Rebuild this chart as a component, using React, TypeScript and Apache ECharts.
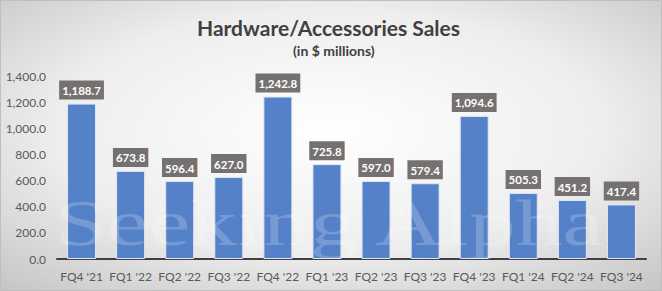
import React, { useEffect, useRef } from "react";
import * as echarts from "echarts";

const categories = ["FQ4 '21", "FQ1 '22", "FQ2 '22", "FQ3 '22", "FQ4 '22", "FQ1 '23", "FQ2 '23", "FQ3 '23", "FQ4 '23", "FQ1 '24", "FQ2 '24", "FQ3 '24"];
const sales = [1188.7, 673.8, 596.4, 627.0, 1242.8, 725.8, 597.0, 579.4, 1094.6, 505.3, 451.2, 417.4];
const titleText = "Hardware/Accessories Sales";
const subtitleText = "(in $ millions)";
const watermark = "Seeking Alpha";

const fmt = (v: number) =>
  v.toLocaleString("en-US", { minimumFractionDigits: 1, maximumFractionDigits: 1 });

export default function App() {
  const ref = useRef<HTMLDivElement>(null);
  useEffect(() => {
    document.body.style.margin = "0";
    const chart = echarts.init(ref.current!, null, { renderer: "svg" });
    chart.setOption({
      animation: false,
      backgroundColor: new echarts.graphic.RadialGradient(0.5, 0.45, 0.75, [
        { offset: 0, color: "#ffffff" },
        { offset: 0.55, color: "#eeeeee" },
        { offset: 1, color: "#c4c4c4" },
      ]),
      title: [
        {
          text: titleText,
          left: 192,
          top: 12,
          textStyle: { fontFamily: "Lato", fontWeight: "bold", fontSize: 21, color: "#404040" },
        },
        {
          text: subtitleText,
          left: 288,
          top: 38,
          textStyle: { fontFamily: "Lato", fontWeight: "bold", fontSize: 14, color: "#404040" },
        },
      ],
      graphic: [
        {
          type: "rect",
          shape: { x: 0.5, y: 0.5, width: 661, height: 290 },
          style: { fill: "none", stroke: "#bfbfbf", lineWidth: 1 },
          silent: true,
        },
        {
          type: "text",
          x: 55,
          y: 190,
          scaleX: 1.42,
          z: 100,
          silent: true,
          style: {
            text: watermark,
            font: "66px 'Liberation Serif'",
            fill: "rgba(255,255,255,0.2)",
          },
        },
      ],
      grid: { left: 57, right: 16, top: 76, bottom: 32, containLabel: false },
      xAxis: {
        type: "category",
        data: categories,
        axisLine: { lineStyle: { color: "#404040", width: 2 } },
        axisTick: { show: false },
        axisLabel: { color: "#595959", fontFamily: "Lato", fontSize: 12, margin: 11, interval: 0 },
      },
      yAxis: {
        type: "value",
        min: 0,
        max: 1400,
        interval: 200,
        splitLine: { show: false },
        axisLine: { show: false },
        axisTick: { show: false },
        axisLabel: {
          color: "#595959",
          fontFamily: "Lato",
          fontSize: 12,
          margin: 11,
          formatter: (v: number) => fmt(v),
        },
      },
      series: [
        {
          type: "bar",
          data: sales,
          barCategoryGap: "41%",
          itemStyle: { color: "#5581c9", borderColor: "#dde6f4", borderWidth: 1 },
          label: {
            show: true,
            position: "top",
            distance: 4,
            formatter: (p: any) => fmt(p.value),
            backgroundColor: "#767171",
            color: "#ffffff",
            fontFamily: "Lato",
            fontWeight: "bold",
            fontSize: 11.5,
            padding: [4, 3, 3, 3],
          },
        },
      ],
    });
    return () => chart.dispose();
  }, []);
  return <div ref={ref} style={{ width: 662, height: 291 }} />;
}
